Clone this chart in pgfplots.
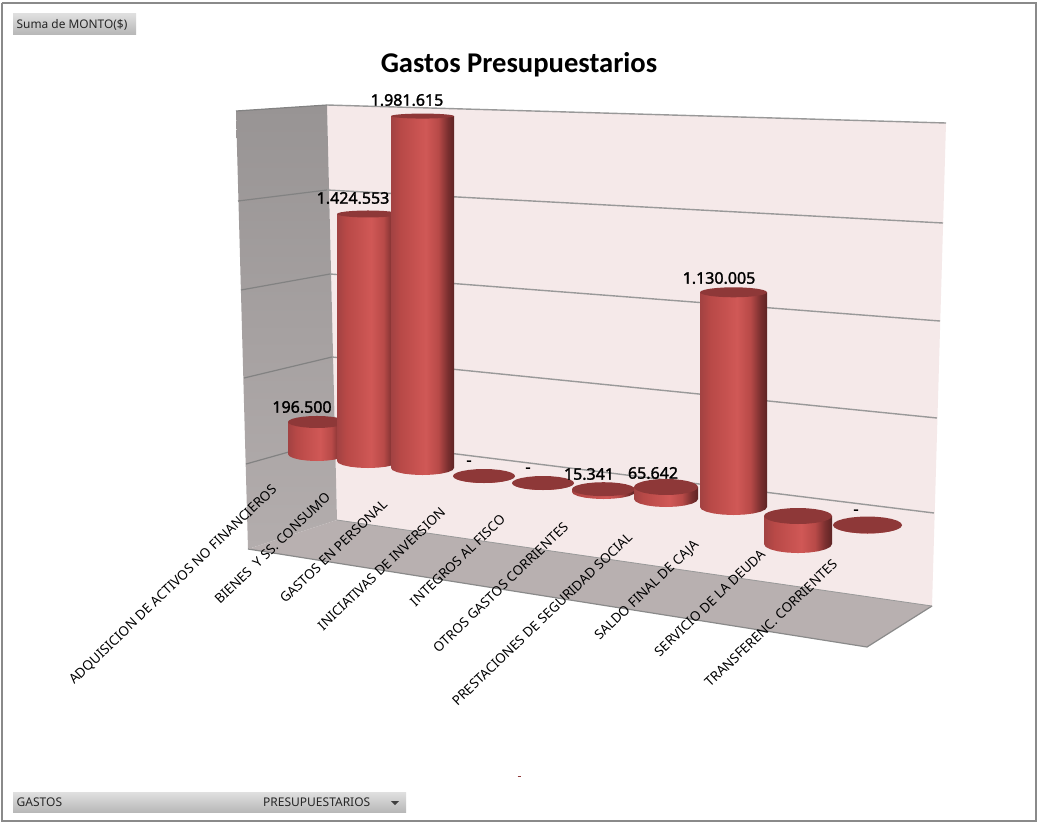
\documentclass[border=0pt]{standalone}
\usepackage{fontspec}
\setmainfont{Noto Sans}
\newfontfamily\titlefont{Carlito}
\newfontfamily\valfont[FakeBold=1.6]{Noto Sans}
\usepackage{pgfplots}
\usepackage{pgfplotstable}
\pgfplotsset{compat=1.18}

\definecolor{capcol}{HTML}{8E3838}
\definecolor{cylA}{HTML}{A24242}
\definecolor{cylB}{HTML}{B84947}
\definecolor{cylC}{HTML}{D05856}
\definecolor{cylD}{HTML}{B84A48}
\definecolor{cylE}{HTML}{7A2F2F}
\definecolor{cylF}{HTML}{5E2424}
\definecolor{backwall}{HTML}{F5E9E9}
\definecolor{floorcol}{HTML}{B8B0B0}
\definecolor{walltop}{HTML}{989494}
\definecolor{wallbot}{HTML}{B3ADAD}
\definecolor{gridcol}{HTML}{999999}
\definecolor{gridleft}{HTML}{828282}
\definecolor{framecol}{HTML}{8A8A8A}

% the path's width maps onto 25bp..75bp of the shading
\pgfdeclarehorizontalshading{cylbar}{100bp}{color(0bp)=(cylA); color(25bp)=(cylA); color(32.5bp)=(cylB);
  color(52.5bp)=(cylC); color(62.5bp)=(cylD); color(70bp)=(cylE); color(75bp)=(cylF); color(100bp)=(cylF)}

% monto in millions; zero = pixel height of the 0 level under the bar, pxm = pixels per million
\pgfplotstableread{
cx    hw   zero pxm   mm       ryt ryb
317   29   454  163   0.1965   6   7
368   31   461  173.4 1.424553 3.5 7
422.5 31.5 468  177.6 1.981615 2.5 7
484   31   476  178   0        7   7
543   31   483  180   0        7   7
603.5 31.5 492  183   0.015341 7   7
666   32   499  183   0.065642 8   8
733.5 33.5 507  190   1.130005 5   8
798   34   516  192   -0.146   8   9
867.5 34.5 525  195   0        8.5 8.5
}\bars

\pgfplotstableread[col sep=semicolon]{
x;y;txt
302;407;196.500
353;198;1.424.553
407;100;1.981.615
469;463;-
528;470;-
589;474;15.341
653;473;65.642
719;278;1.130.005
856;512;-
}\vallabels

\pgfplotstableread[col sep=semicolon]{
x;y;txt
275;488;ADQUISICION DE ACTIVOS NO FINANCIEROS
328;495;BIENES \ Y SS. CONSUMO
385;502;GASTOS EN PERSONAL
443;510;INICIATIVAS DE INVERSION
503;517;INTEGROS AL FISCO
566;525;OTROS GASTOS CORRIENTES
630;535;PRESTACIONES DE SEGURIDAD SOCIAL
697;543;SALDO FINAL DE CAJA
763;552;SERVICIO DE LA DEUDA
835;562;TRANSFERENC. CORRIENTES
}\catlabels

% outline of the side of a unit cylinder: k=0 upper end, k=1 lower end, a = offset along the lower arc
\pgfplotstableread{
u      k a
-1     0 0
-1     1 0
-0.951 1 0.309
-0.809 1 0.588
-0.588 1 0.809
-0.309 1 0.951
0      1 1
0.309  1 0.951
0.588  1 0.809
0.809  1 0.588
0.951  1 0.309
1      1 0
1      0 0
}\sideoutline

\pgfplotstableread{
u      v
1      0
0.966  0.259
0.866  0.5
0.707  0.707
0.5    0.866
0.259  0.966
0      1
-0.259 0.966
-0.5   0.866
-0.707 0.707
-0.866 0.5
-0.966 0.259
-1     0
-0.966 -0.259
-0.866 -0.5
-0.707 -0.707
-0.5   -0.866
-0.259 -0.966
0      -1
0.259  -0.966
0.5    -0.866
0.707  -0.707
0.866  -0.5
0.966  -0.259
}\capoutline

\begin{document}
\begin{tikzpicture}
\begin{axis}[
    width=1037pt, height=823pt,
    scale only axis,
    xmin=0, xmax=1037,
    ymin=0, ymax=823,
    y dir=reverse,
    hide axis,
    clip=false,
    no markers,
    cycle list={{black}},
]
% page and frame
\addplot[draw=none, fill=white] coordinates {(0,0) (1037,0) (1037,823) (0,823) (0,0)};
\addplot[draw=framecol, line width=2pt] coordinates {(1.5,3) (1035.5,3) (1035.5,821) (1.5,821) (1.5,3)};

% walls and floor
\addplot[draw=none, fill=backwall] coordinates {(327,105) (946,123) (932,606) (337,520) (327,105)};
\addplot[draw=none, shade, top color=walltop, bottom color=wallbot] coordinates {(236,111) (327,105) (337,520) (248,549) (236,111)};
\addplot[draw=none, fill=floorcol] coordinates {(337,520) (932,606) (867,647) (248,549) (337,520)};
\addplot[draw=framecol, line width=1.2pt] coordinates {(248,549) (867,647) (932,606)};
\addplot[draw=gridcol, line width=0.8pt] coordinates {(337,520) (932,606)};

% gridlines, left wall then back wall
\addplot[draw=gridleft, line width=1.2pt] coordinates {(236,111) (327,105)};
\addplot[draw=gridleft, line width=1.2pt] coordinates {(238,201) (327,190)};
\addplot[draw=gridleft, line width=1.2pt] coordinates {(241,290) (330,274)};
\addplot[draw=gridleft, line width=1.2pt] coordinates {(244,378) (332,357)};
\addplot[draw=gridleft, line width=1.2pt] coordinates {(246,464) (335,439)};
\addplot[draw=gridcol, line width=1.4pt] coordinates {(327,105) (946,123)};
\addplot[draw=gridcol, line width=1.4pt] coordinates {(327,190) (943,223)};
\addplot[draw=gridcol, line width=1.4pt] coordinates {(330,274) (940,321)};
\addplot[draw=gridcol, line width=1.4pt] coordinates {(332,357) (937,418)};
\addplot[draw=gridcol, line width=1.4pt] coordinates {(335,439) (934,513)};

% cylinders, left to right so that each one covers the one before
\pgfplotsinvokeforeach{0,...,9}{
  \pgfplotstablegetelem{#1}{cx}\of\bars\edef\cx{\pgfplotsretval}
  \pgfplotstablegetelem{#1}{hw}\of\bars\edef\hw{\pgfplotsretval}
  \pgfplotstablegetelem{#1}{zero}\of\bars\edef\zero{\pgfplotsretval}
  \pgfplotstablegetelem{#1}{pxm}\of\bars\edef\pxm{\pgfplotsretval}
  \pgfplotstablegetelem{#1}{mm}\of\bars\edef\mm{\pgfplotsretval}
  \pgfplotstablegetelem{#1}{ryt}\of\bars\edef\ryt{\pgfplotsretval}
  \pgfplotstablegetelem{#1}{ryb}\of\bars\edef\ryb{\pgfplotsretval}
  \pgfmathsetmacro\ytop{min(\zero,\zero-\mm*\pxm)}
  \pgfmathsetmacro\ybot{max(\zero,\zero-\mm*\pxm)}
  \addplot[draw=none, shade, shading=cylbar] table[
      x expr=\cx+\hw*\thisrow{u},
      y expr=\ytop+\thisrow{k}*(\ybot-\ytop)+\thisrow{a}*\ryb] {\sideoutline};
  \addplot[draw=none, fill=capcol] table[
      x expr=\cx+\hw*\thisrow{u},
      y expr=\ytop+\ryt*\thisrow{v}] {\capoutline};
}

% value labels
\addplot[draw=none, nodes near coords, point meta=explicit symbolic,
  every node near coord/.append style={anchor=center, inner sep=0pt, text=black,
    font=\valfont\fontsize{16}{18}\selectfont}]
  table[x=x, y=y, meta=txt] {\vallabels};

% category labels
\addplot[draw=none, nodes near coords, point meta=explicit symbolic,
  every node near coord/.append style={anchor=east, rotate=43.7, inner sep=0pt, text=black,
    font=\fontsize{13.35}{15}\selectfont}]
  table[x=x, y=y, meta=txt] {\catlabels};

% page fields
\addplot[draw=none, shade, top color=black!12, bottom color=black!28] coordinates {(13,13) (136,13) (136,34) (13,34) (13,13)};
\addplot[draw=none, shade, top color=black!12, bottom color=black!28] coordinates {(13,792) (406,792) (406,812) (13,812) (13,792)};
\addplot[draw=none, fill=black!75] coordinates {(391,801) (399,801) (395,805) (391,801)};
\addplot[draw=capcol, line width=1pt] coordinates {(517.5,776) (521,776)};

\node[anchor=base west, inner sep=0pt, font=\fontsize{11.9}{14}\selectfont, text=black!85] at (axis cs:16.5,28) {Suma de MONTO(\$)};
\node[anchor=base west, inner sep=0pt, font=\fontsize{12}{14}\selectfont, text=black!85] at (axis cs:16.5,806) {GASTOS};
\node[anchor=base west, inner sep=0pt, font=\fontsize{12}{14}\selectfont, text=black!85] at (axis cs:263,806) {PRESUPUESTARIOS};
\node[anchor=center, inner sep=0pt, font=\titlefont\fontsize{28.6}{32}\selectfont\bfseries] at (axis cs:519,65) {Gastos Presupuestarios};
\end{axis}
\end{tikzpicture}
\end{document}
